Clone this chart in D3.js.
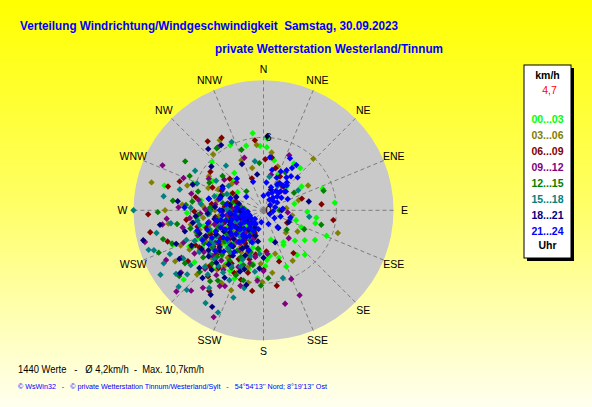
<!DOCTYPE html>
<html>
<head>
<meta charset="utf-8">
<script src="https://cdn.jsdelivr.net/npm/d3@7/dist/d3.min.js"></script>
<style>
  html, body { margin: 0; padding: 0; background: #ffffe8; }
  svg { display: block; }
  text { font-family: "Liberation Sans", Arial, sans-serif; }
</style>
</head>
<body>
<div id="chart"></div>
<script>
// compass directions and speed rings
var directions = ["N","NNE","NE","ENE","E","ESE","SE","SSE","S","SSW","SW","WSW","W","WNW","NW","NNW"];
var ringValues = [0, 6];
var maxSpeed = 10.7;

// legend / time buckets
var seriesLabels = ["00...03","03...06","06...09","09...12","12...15","15...18","18...21","21...24"];
var seriesColors = ["#00ff00","#808000","#800000","#800080","#008000","#008080","#000080","#0000ff"];

// [direction in degrees, speed km/h]
var h00 = [[92,3.6],[98,4.4],[104,4.4],[107,2.8],[114,3.4],[120,4.9],[126,4.2],[134,3.6],[137,5.0],[143,4.6],[148,3.1],[150,3.3],[158,5.0],[162,4.1],[166,2.5],[172,3.8],[178,4.6],[185,5.6],[191,4.5],[196,3.2],[203,6.1],[213,3.9],[222,5.2],[229,8.7],[238,4.7],[249,8.0],[256,3.4],[263,5.5],[272,4.2],[284,8.4],[291,6.2],[300,4.8],[313,5.8],[322,3.9],[333,6.0],[345,5.5],[352,6.4],[357,5.3],[3,5.9],[3,5.2],[12,4.2],[22,3.2],[33,4.6],[41,4.6],[45,2.7],[58,3.7],[70,5.2],[78,2.6],[84,5.9],[112,5.6],
  [200,2.1],[206,3.4],[211,1.5],[216,4.8],[219,2.6],[224,3.7],[227,1.9],[231,4.4],[235,2.8],[239,5.9],[242,1.4],[245,3.3],[248,4.6],[252,2.2],[255,5.1],[258,1.7],[261,3.9],[265,2.5],[268,6.3],[271,1.9],[275,3.1],[279,5.2],[283,2.4],[287,4.0],[296,3.0],[305,2.6],[315,3.5],[209,5.7],[221,6.4],[233,7.1],[244,6.8],
  [176,4.1],[186,3.3],[194,5.0],[205,4.6],[215,5.4],[226,4.2],[236,3.6],[247,5.8]];
var h03 = [[44,5.9],[61,4.2],[107,6.4],[122,3.3],[135,2.6],[150,4.8],[165,3.7],[181,5.9],[188,3.2],[195,4.8],[202,7.1],[208,3.9],[215,5.6],[221,2.8],[226,6.6],[232,4.3],[237,3.1],[242,5.4],[247,7.4],[251,2.4],[255,4.6],[259,6.1],[264,3.6],[270,8.1],[274,5.0],[278,2.9],[284,9.5],[288,6.6],[295,4.1],[302,5.3],[310,3.4],[318,6.2],[328,6.8],[336,4.5],[345,3.6],[354,5.4],[8,4.8],[18,3.8],[28,2.6],[74,3.0],[85,1.9],[100,2.4],[230,1.6],[215,1.2],[260,1.9],
  [198,2.4],[203,5.6],[207,1.7],[212,3.5],[217,4.9],[220,1.9],[224,3.9],[228,5.8],[231,2.2],[235,4.4],[238,6.2],[241,1.5],[244,3.1],[247,4.7],[250,2.9],[253,5.5],[256,1.3],[260,3.7],[263,5.0],[267,2.1],[270,4.0],[274,6.7],[278,1.8],[282,3.9],[286,2.6],[292,4.9],[210,6.9],[226,7.6],[240,8.4],[262,7.9],
  [172,5.2],[183,4.4],[192,6.1],[200,3.9],[218,6.2],[229,4.8],[242,6.9],[252,4.1]];
var h06 = [[321,7.3],[330,6.9],[353,5.8],[2,4.2],[9,4.4],[16,3.6],[26,3.1],[38,2.5],[73,3.3],[84,4.8],[98,5.8],[118,2.2],[145,4.3],[163,4.4],[176,3.4],[188,6.7],[194,5.3],[200,3.6],[207,4.5],[212,2.9],[218,6.0],[223,4.1],[229,3.4],[234,5.1],[239,2.4],[243,6.3],[248,3.8],[253,4.9],[257,2.9],[259,9.5],[263,6.4],[268,9.5],[271,4.4],[276,3.2],[281,5.7],[284,8.1],[289,7.3],[294,4.6],[299,2.9],[306,5.4],[313,3.8],[340,2.8],[250,1.7],[225,1.5],[205,2.2],
  [196,4.2],[201,2.0],[205,5.7],[209,3.1],[213,1.6],[216,4.6],[220,7.1],[223,2.4],[227,5.3],[230,3.7],[233,1.3],[237,4.2],[240,6.1],[243,2.7],[246,4.8],[250,1.9],[253,3.3],[256,5.6],[259,2.2],[262,4.0],[266,1.5],[269,5.7],[273,2.6],[277,4.3],[281,3.0],[288,2.4],[295,3.8],[236,7.5],[214,8.0],[252,8.3],
  [170,6.3],[180,4.9],[190,3.7],[198,6.0],[211,5.1],[224,6.4],[233,4.6],[245,5.2]];
var h09 = [[294,9.1],[255,10.1],[205,9.7],[167,7.9],[158,6.1],[157,7.6],[25,5.0],[227,9.8],[262,8.4],[292,7.1],[324,6.4],[340,4.6],[12,3.0],[48,2.3],[95,2.0],[138,3.1],[180,5.0],[190,3.9],[197,6.5],[203,4.2],[210,7.2],[215,3.3],[220,5.4],[225,6.8],[230,2.9],[236,4.8],[240,7.8],[244,3.6],[249,5.8],[254,4.2],[258,6.8],[262,3.1],[267,5.2],[272,7.0],[277,4.0],[283,6.1],[290,3.7],[300,5.2],[308,4.1],[316,3.2],[233,8.5],[218,8.1],[245,2.2],[270,2.5],[212,1.8],
  [199,2.5],[204,5.1],[208,1.9],[211,3.8],[214,5.9],[218,2.3],[222,4.1],[226,1.6],[229,5.0],[232,3.4],[235,6.0],[238,2.0],[241,4.3],[245,5.3],[248,1.4],[251,3.6],[255,2.6],[258,4.6],[261,1.9],[264,6.1],[268,3.4],[271,4.8],[275,2.3],[279,5.4],[284,3.8],[296,2.5],[207,7.0],[243,9.0],[222,8.9],[265,8.0],
  [175,3.6],[185,5.8],[194,4.5],[216,6.6],[228,5.6],[238,6.7],[248,7.1],[220,3.4]];
var h12 = [[72,5.2],[104,4.9],[295,6.7],[323,6.4],[269,8.7],[232,8.8],[213,6.9],[200,4.8],[188,3.2],[176,5.6],[130,2.5],[60,2.9],[30,3.6],[355,3.9],[340,5.3],[310,4.4],[302,7.6],[286,5.6],[280,3.4],[274,6.4],[266,4.5],[261,7.2],[256,3.1],[252,5.8],[247,4.2],[243,6.6],[238,3.6],[234,5.2],[229,2.6],[224,6.1],[220,4.4],[216,3.0],[209,5.4],[204,2.7],[196,6.0],[250,8.0],[240,1.9],[262,2.4],[275,1.6],[283,2.7],[318,2.1],[248,9.3],[226,7.3],[90,1.3],[115,3.7],
  [197,3.6],[201,1.6],[206,4.3],[210,2.2],[214,5.0],[218,1.8],[221,3.8],[225,5.4],[228,1.4],[231,4.1],[235,2.3],[239,5.1],[242,3.0],[245,1.6],[249,4.8],[252,2.7],[256,6.2],[259,3.9],[263,1.8],[266,5.4],[270,2.8],[273,4.4],[277,5.9],[281,2.0],[290,3.6],[297,5.0],[217,7.3],[236,7.8],[254,8.6],[276,7.5],
  [182,6.2],[191,4.6],[203,5.8],[213,4.0],[223,5.0],[232,6.3],[241,5.6],[250,3.9]];
var h15 = [[270,10.7],[251,10.0],[238,10.0],[224,9.1],[212,9.0],[204,9.2],[164,5.8],[284,7.1],[300,6.5],[335,6.2],[98,3.8],[110,2.3],[60,3.3],[30,2.3],[10,2.8],[350,4.1],[320,4.8],[305,3.5],[292,5.9],[278,8.3],[272,6.0],[266,4.6],[262,7.7],[257,5.4],[253,3.7],[249,6.8],[245,8.5],[241,4.9],[237,6.3],[233,7.5],[229,3.9],[225,5.7],[221,7.0],[217,4.4],[213,6.1],[208,3.5],[202,5.0],[194,6.6],[185,3.6],[258,9.0],[242,9.3],[230,8.2],[244,2.3],[268,2.9],[222,2.9],[199,7.6],
  [198,2.8],[203,4.4],[207,1.8],[210,5.3],[214,3.0],[219,1.6],[223,4.3],[227,2.5],[231,5.7],[234,3.2],[238,1.6],[241,4.4],[245,5.6],[248,2.5],[251,4.7],[254,1.7],[258,3.6],[261,5.5],[265,2.1],[269,4.4],[273,3.0],[276,5.2],[280,2.2],[286,4.2],[294,3.3],[302,4.6],[215,7.8],[228,9.4],[250,9.6],[234,8.9],
  [188,5.1],[196,3.9],[206,6.4],[219,5.9],[226,6.7],[236,5.0],[246,6.2],[239,7.7]];
var h18 = [[327,6.4],[256,10.2],[208,9.0],[3,6.1],[79,3.8],[318,6.8],[115,2.3],[90,1.5],[40,2.6],[20,1.8],[350,3.0],[335,4.2],[310,5.6],[300,3.9],[290,6.2],[282,4.6],[276,7.1],[270,3.4],[265,5.6],[260,4.1],[255,6.7],[251,2.9],[246,5.2],[242,3.7],[238,6.0],[234,2.6],[230,4.7],[226,3.4],[222,5.8],[218,2.7],[214,4.5],[210,6.4],[205,3.3],[198,5.1],[190,2.6],[180,3.9],[160,2.8],[140,1.9],[240,8.0],[222,7.5],[262,8.6],[247,1.5],[268,1.9],[285,2.1],[215,1.3],
  [197,2.2],[202,4.0],[206,1.6],[209,3.6],[213,5.3],[217,2.0],[220,3.9],[224,1.5],[227,4.9],[231,2.4],[234,5.6],[237,3.3],[240,1.6],[243,4.4],[247,3.0],[250,5.6],[253,2.0],[257,3.9],[260,5.9],[263,2.7],[267,4.6],[271,2.1],[274,4.0],[279,2.8],[288,3.7],[296,2.5],[228,7.1],[249,7.7],[233,8.6],[212,8.2],
  [184,4.8],[193,6.3],[201,5.4],[221,6.5],[230,5.9],[244,6.6]];
var h21 = [[7,4.4],[6,2.3],[27,4.8],[22,2.9],[16,1.4],[308,1.8],[285,3.7],[272,6.5],[257,4.7],[30,3.8],[35,3.3],[38,2.6],[42,2.1],[45,1.6],[48,1.1],[52,0.7],[33,1.9],[40,3.0],[28,2.4],[12,3.4],[60,1.3],[75,1.0],[95,0.8],[110,1.5],[125,1.1],[140,1.8],[160,1.2],[190,1.0],[205,1.9],[212,2.6],[218,3.3],[222,1.4],[226,2.2],[229,3.0],[232,3.8],[235,4.5],[238,1.8],[240,2.7],[243,3.5],[246,4.3],[249,1.2],[252,2.3],[255,3.2],[258,4.0],[262,1.6],[266,2.8],[270,3.6],[276,2.2],[282,4.6],[290,2.9],[298,3.8],[215,4.2],[200,3.5],[230,5.2],[244,5.6],[320,3.4],[340,2.5],[0,1.2],
  [24,3.5],[26,1.6],[31,2.6],[34,4.2],[37,1.3],[39,3.6],[43,2.8],[46,3.9],[50,2.4],[55,1.8],[36,4.6],[29,1.0],[41,1.9],[18,2.0],[65,2.2],[85,1.6],[105,2.3],[120,0.6],[210,1.3],[214,3.0],[217,1.8],[220,2.6],[223,3.9],[225,1.0],[228,1.6],[231,2.5],[233,3.3],[236,4.0],[237,1.2],[239,2.2],[241,3.1],[242,4.8],[245,1.8],[247,2.9],[248,3.8],[250,1.5],[251,4.9],[254,2.7],[256,1.9],[257,3.6],[260,2.4],[263,3.4],[265,1.3],[268,2.3],[273,1.7],[279,3.1],[224,4.7],[238,5.3],[253,5.7],[208,2.4],[200,2.8],[195,1.6]];
var seriesData = [h00, h03, h06, h09, h12, h15, h18, h21];

var titleText = "Verteilung Windrichtung/Windgeschwindigkeit  Samstag, 30.09.2023";
var subtitleText = "private Wetterstation Westerland/Tinnum";
var legendUnit = "km/h";
var legendValue = "4,7";
var legendFooter = "Uhr";
var statsText = "1440 Werte   -   Ø 4,2km/h  -  Max. 10,7km/h";
var footerText = "© WsWin32   -   © private Wetterstation Tinnum/Westerland/Sylt   -   54°54'13'' Nord; 8°19'13'' Ost";

var W = 592, H = 407;
var cx = 263.5, cy = 210.3, R = 130;

var svg = d3.select("#chart").append("svg")
    .attr("width", W)
    .attr("height", H);

// yellow background gradient
var grad = svg.append("defs").append("linearGradient")
    .attr("id", "bg")
    .attr("x1", 0).attr("y1", 0).attr("x2", 0).attr("y2", 1);
grad.append("stop").attr("offset", "0%").attr("stop-color", "#ffff00");
grad.append("stop").attr("offset", "50%").attr("stop-color", "#ffff66");
grad.append("stop").attr("offset", "100%").attr("stop-color", "#fffff0");
svg.append("rect").attr("width", W).attr("height", H).attr("fill", "url(#bg)");

// titles
svg.append("text")
    .attr("x", 20).attr("y", 29.5)
    .attr("textLength", 378).attr("lengthAdjust", "spacingAndGlyphs")
    .style("white-space", "pre")
    .style("font-size", "13.5px").style("font-weight", "bold")
    .attr("fill", "#0000ff")
    .text(titleText);
svg.append("text")
    .attr("x", 215).attr("y", 53)
    .attr("textLength", 228).attr("lengthAdjust", "spacingAndGlyphs")
    .style("font-size", "13.5px").style("font-weight", "bold")
    .attr("fill", "#0000ff")
    .text(subtitleText);

// polar plot
var r = d3.scaleLinear().domain([0, maxSpeed]).range([0, R]);
var angle = d3.scaleLinear().domain([0, 360]).range([0, 2 * Math.PI]);

var g = svg.append("g").attr("transform", "translate(" + cx + "," + cy + ")");

g.append("circle").attr("r", R).attr("fill", "#c9c9c9");

g.selectAll(".spoke")
    .data(directions)
    .enter().append("line")
    .attr("class", "spoke")
    .attr("x1", 0).attr("y1", 0)
    .attr("x2", function(d, i) { return R * Math.sin(angle(i * 22.5)); })
    .attr("y2", function(d, i) { return -R * Math.cos(angle(i * 22.5)); })
    .attr("stroke", "#7c7c7c")
    .attr("stroke-dasharray", "4,3");

g.selectAll(".ring")
    .data(ringValues.filter(function(v) { return v > 0; }))
    .enter().append("circle")
    .attr("class", "ring")
    .attr("r", function(d) { return r(d); })
    .attr("fill", "none")
    .attr("stroke", "#7c7c7c")
    .attr("stroke-dasharray", "4,3");

g.selectAll(".dirlabel")
    .data(directions)
    .enter().append("text")
    .attr("class", "dirlabel")
    .attr("x", function(d, i) { return 141 * Math.sin(angle(i * 22.5)); })
    .attr("y", function(d, i) { return -141 * Math.cos(angle(i * 22.5)); })
    .attr("dy", "0.35em")
    .attr("text-anchor", "middle")
    .style("font-size", "10.5px")
    .attr("fill", "#000")
    .text(function(d) { return d; });

// points, one group per time bucket, later buckets on top
var diamond = "M0,-3.2L3.2,0L0,3.2L-3.2,0Z";
seriesData.forEach(function(series, si) {
    g.append("g").selectAll("path")
        .data(series)
        .enter().append("path")
        .attr("d", diamond)
        .attr("transform", function(d) {
            var a = angle(d[0]), rr = r(d[1]);
            return "translate(" + (rr * Math.sin(a)) + "," + (-rr * Math.cos(a)) + ")";
        })
        .attr("fill", seriesColors[si]);
});

g.selectAll(".ringlabel")
    .data(ringValues)
    .enter().append("text")
    .attr("class", "ringlabel")
    .attr("x", 2)
    .attr("y", function(d) { return -r(d); })
    .attr("dy", "0.35em")
    .style("font-size", "11px")
    .attr("fill", "#000")
    .text(function(d) { return d; });

// legend box with shadow
var lx = 524, ly = 65, lw = 47, lh = 193;
svg.append("rect").attr("x", lx + 3).attr("y", ly + 3).attr("width", lw).attr("height", lh).attr("fill", "#000");
svg.append("rect").attr("x", lx).attr("y", ly).attr("width", lw).attr("height", lh)
    .attr("fill", "#fff").attr("stroke", "#000");

var lcx = lx + lw / 2;
svg.append("text").attr("x", lcx).attr("y", 79).attr("text-anchor", "middle")
    .style("font-size", "10.5px").style("font-weight", "bold").text(legendUnit);
svg.append("text").attr("x", lcx + 2).attr("y", 94).attr("text-anchor", "middle")
    .style("font-size", "10.5px").attr("fill", "#ff0000").text(legendValue);
svg.selectAll(".leg")
    .data(seriesLabels)
    .enter().append("text")
    .attr("class", "leg")
    .attr("x", lcx).attr("y", function(d, i) { return 122.5 + i * 16; })
    .attr("text-anchor", "middle")
    .style("font-size", "10.5px").style("font-weight", "bold")
    .attr("fill", function(d, i) { return seriesColors[i]; })
    .text(function(d) { return d; });
svg.append("text").attr("x", lcx).attr("y", 249).attr("text-anchor", "middle")
    .style("font-size", "10.5px").style("font-weight", "bold").text(legendFooter);

// statistics and footer
svg.append("text")
    .attr("x", 18).attr("y", 373)
    .attr("textLength", 186).attr("lengthAdjust", "spacingAndGlyphs")
    .style("white-space", "pre")
    .style("font-size", "11px")
    .attr("fill", "#000")
    .text(statsText);
svg.append("text")
    .attr("x", 18).attr("y", 388.5)
    .attr("textLength", 309).attr("lengthAdjust", "spacingAndGlyphs")
    .style("white-space", "pre")
    .style("font-size", "7.5px")
    .attr("fill", "#0000ff")
    .text(footerText);
</script>
</body>
</html>
